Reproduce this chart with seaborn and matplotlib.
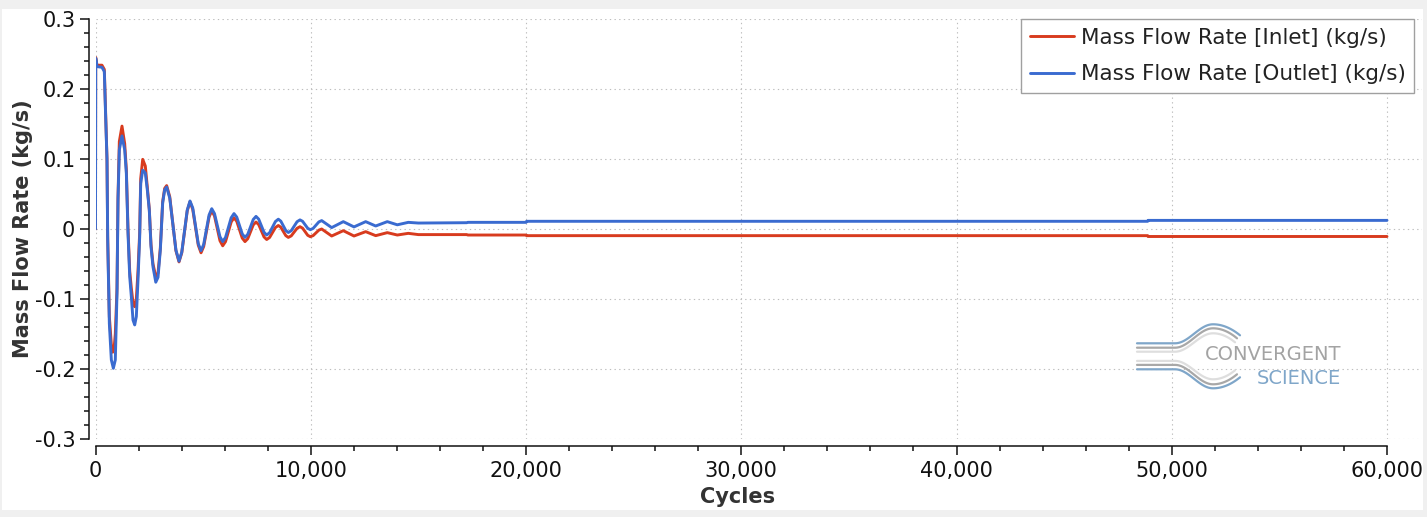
import numpy as np
import matplotlib
matplotlib.use("Agg")
import matplotlib.pyplot as plt
import seaborn as sns
from matplotlib.lines import Line2D
from matplotlib.patches import Rectangle
from matplotlib.ticker import FuncFormatter

# Mass flow rate vs cycles
inlet_label = "Mass Flow Rate [Inlet] (kg/s)"
outlet_label = "Mass Flow Rate [Outlet] (kg/s)"

outlet_cycles = [0, 10, 70, 300, 410, 457, 534, 566, 643, 736,
                 829, 920, 999, 1045, 1107, 1231, 1356, 1433, 1510, 1589,
                 1666, 1742, 1821, 1897, 1974, 2053, 2100, 2193, 2314, 2407,
                 2500, 2578, 2671, 2800, 2904, 3012, 3120, 3213, 3306,
                 3450, 3736, 3880, 4008, 4262, 4390, 4518, 4774, 4902,
                 5026, 5276, 5400, 5528, 5782, 5910, 6041, 6303, 6434,
                 6562, 6817, 6945, 7073, 7329, 7457, 7581, 7829, 7953,
                 8088, 8359, 8494, 8610, 8842, 8958, 9094, 9364, 9500,
                 9620, 9860, 9980, 10112, 10376, 10508,
                 10972, 11512, 12009, 12552, 13017, 13556, 14021, 14532,
                 15000, 17245, 17300, 20000, 20031, 48882, 48900, 60000]
outlet_flow = [0.000, 0.244, 0.232, 0.231, 0.225, 0.175, 0.099, -0.016, -0.135, -0.187,
               -0.199, -0.187, -0.092, 0.041, 0.113, 0.133, 0.113, 0.080, -0.006, -0.068,
               -0.097, -0.130, -0.137, -0.125, -0.073, -0.011, 0.065, 0.084, 0.080, 0.056,
               0.027, -0.025, -0.054, -0.076, -0.069, -0.030, 0.037, 0.056, 0.060,
               0.044, -0.030, -0.046, -0.033, 0.027, 0.040, 0.030, -0.021, -0.031,
               -0.022, 0.020, 0.029, 0.022, -0.011, -0.018, -0.012, 0.016, 0.022,
               0.017, -0.007, -0.012, -0.0076, 0.0136, 0.018, 0.0141, -0.0047, -0.0086,
               -0.0053, 0.0107, 0.014, 0.0112, -0.0022, -0.005, -0.0024, 0.0104, 0.013,
               0.011, 0.001, -0.001, 0.0009, 0.0101, 0.012,
               0.002, 0.0105, 0.003, 0.0105, 0.0043, 0.0105, 0.006, 0.0095,
               0.0085, 0.009, 0.0095, 0.0095, 0.011, 0.011, 0.0123, 0.0123]

inlet_cycles = [0, 10, 70, 300, 410, 457, 534, 566, 643, 736,
                800, 870, 920, 999, 1045, 1107, 1231, 1356, 1433, 1510,
                1589, 1666, 1742, 1821, 1897, 1974, 2053, 2100, 2193, 2314,
                2407, 2500, 2578, 2671, 2800, 2904, 3012, 3120, 3213, 3306,
                3450, 3736, 3880, 4008, 4262, 4390, 4518, 4774, 4902,
                5026, 5276, 5400, 5528, 5782, 5910, 6041, 6303, 6434,
                6562, 6817, 6945, 7073, 7329, 7457, 7581, 7829, 7953,
                8088, 8359, 8494, 8610, 8842, 8958, 9094, 9364, 9500,
                9620, 9860, 9980, 10112, 10376, 10508,
                10972, 11512, 12009, 12552, 13017, 13556, 14021, 14532,
                15000, 17245, 17300, 20000, 20031, 48882, 48900, 60000]
inlet_flow = [0.000, 0.245, 0.234, 0.234, 0.228, 0.180, 0.100, -0.010, -0.125, -0.165,
              -0.176, -0.168, -0.150, -0.085, 0.045, 0.125, 0.147, 0.122, 0.085, 0.000,
              -0.060, -0.085, -0.105, -0.111, -0.100, -0.060, -0.005, 0.072, 0.0995, 0.090,
              0.060, 0.028, -0.022, -0.050, -0.068, -0.063, -0.027, 0.039, 0.058, 0.062,
              0.046, -0.031, -0.047, -0.034, 0.026, 0.039, 0.028, -0.023, -0.034,
              -0.025, 0.017, 0.026, 0.0187, -0.0167, -0.024, -0.018, 0.010, 0.016,
              0.011, -0.013, -0.018, -0.0139, 0.0059, 0.010, 0.0063, -0.0113, -0.015,
              -0.0121, 0.0021, 0.005, 0.0025, -0.0095, -0.012, -0.0098, 0.001, 0.0033,
              0.0012, -0.009, -0.011, -0.0094, -0.0016, 0.000,
              -0.010, -0.0024, -0.010, -0.0038, -0.0095, -0.0052, -0.0086, -0.0062,
              -0.008, -0.008, -0.0086, -0.0086, -0.0095, -0.0095, -0.0107, -0.0107]

x_major = list(range(0, 60001, 10000))
x_minor = list(range(0, 60001, 2000))
y_major = [-0.3, -0.2, -0.1, 0.0, 0.1, 0.2, 0.3]
y_minor = [round(-0.3 + 0.02 * i, 2) for i in range(31)]

red = "#d83b1e"
blue = "#3a6bd0"

sns.set_style("white")
plt.rcParams["font.family"] = ["DejaVu Sans"]

W, H = 1427, 517
fig = plt.figure(figsize=(W / 100, H / 100), dpi=100, facecolor="#f0f0f0")
fig.patches.append(Rectangle((2 / W, 7 / H), 1420.7 / W, 501 / H, transform=fig.transFigure,
                             facecolor="white", edgecolor="none", zorder=-10))

# axes runs past 60,000 so the horizontal grid reaches the right edge
x0, x60, xr = 95.5, 1387, 1422
ax = fig.add_axes([x0 / W, 1 - 439 / H, (xr - x0) / W, 420 / H])
ax.set_facecolor("none")

sns.lineplot(x=inlet_cycles, y=inlet_flow, estimator=None, sort=False, ax=ax,
             color=red, lw=2.1, label=inlet_label)
sns.lineplot(x=outlet_cycles, y=outlet_flow, estimator=None, sort=False, ax=ax,
             color=blue, lw=2.1, label=outlet_label)

ax.set_xlim(0, 60000 * (xr - x0) / (x60 - x0))
ax.set_ylim(-0.3, 0.3)

for s in ["top", "right"]:
    ax.spines[s].set_visible(False)
ax.spines["left"].set_position(("outward", 5))
ax.spines["bottom"].set_position(("outward", 5))
ax.spines["bottom"].set_bounds(0, 60000)
for s in ["left", "bottom"]:
    ax.spines[s].set_color("#111111")
    ax.spines[s].set_linewidth(1.1)

ax.set_xticks(x_major)
ax.set_xticks(x_minor, minor=True)
ax.set_yticks(y_major)
ax.set_yticks(y_minor, minor=True)
ax.xaxis.set_major_formatter(FuncFormatter(lambda v, p: f"{int(round(v)):,}"))
ax.yaxis.set_major_formatter(FuncFormatter(lambda v, p: "0" if abs(v) < 1e-9 else f"{v:.1f}"))

ax.tick_params(which="both", bottom=True, left=True, top=False, right=False, direction="out",
               color="#111111", width=1.1)
ax.tick_params(which="major", length=6.5, labelsize=15, labelcolor="#111111")
ax.tick_params(which="minor", length=3.6)
ax.tick_params(axis="y", which="major", pad=3)
ax.tick_params(axis="x", which="major", pad=4)

ax.grid(True, which="major", color="#bdbdbd", lw=0.8, ls=(0, (1.2, 3)))
ax.grid(False, which="minor")
ax.set_axisbelow(True)

ax.set_xlabel("Cycles", fontsize=15, fontweight="bold", color="#333333")
ax.set_ylabel("Mass Flow Rate (kg/s)", fontsize=15, fontweight="bold", color="#333333")
ax.xaxis.set_label_coords((737.5 - x0) / (xr - x0), (439 - 487) / 420)
ax.yaxis.set_label_coords((33 - x0) / (xr - x0), 0.5)

leg = ax.legend(loc="upper right", bbox_to_anchor=(1414 / W, 1 - 19 / H),
                bbox_transform=fig.transFigure, borderaxespad=0, fontsize=15.5,
                frameon=True, fancybox=False, framealpha=1, edgecolor="#a0a0a0",
                handlelength=2.05, handletextpad=0.3, labelspacing=0.77, borderpad=0.4)
leg.get_frame().set_linewidth(1.0)
for t in leg.get_texts():
    t.set_color("#222222")


# Convergent Science logo (decoration)
def px(x, y):
    return x / W, 1 - y / H


def swoosh(y_flat, y_top, x_end, y_end, color):
    xs1 = np.linspace(1137, 1175, 5)
    ys1 = np.full_like(xs1, y_flat)
    xs2 = np.linspace(1175, 1213, 30)
    ys2 = y_flat + (y_top - y_flat) * (1 - np.cos(np.pi * (xs2 - 1175) / 38)) / 2
    xs3 = np.linspace(1213, x_end, 30)
    ys3 = y_top + (y_end - y_top) * ((xs3 - 1213) / (x_end - 1213)) ** 2
    xs = np.concatenate([xs1, xs2, xs3])
    ys = np.concatenate([ys1, ys2, ys3])
    fx, fy = px(xs, ys)
    fig.add_artist(Line2D(fx, fy, transform=fig.transFigure, color=color, lw=1.6, zorder=5))


cy = 356.3
for off_flat, off_top, xe, off_end, col in [(13, 32, 1240, 21, "#7fa6c9"),
                                            (8.6, 28, 1237, 18, "#a8a8a8"),
                                            (4.6, 23, 1235, 14, "#dedede")]:
    swoosh(cy - off_flat, cy - off_top, xe, cy - off_end, col)
    swoosh(cy + off_flat, cy + off_top, xe, cy + off_end, col)

fig.text(*px(1341, 355), "CONVERGENT", fontsize=14, color="#a3a3a3", ha="right", va="center")
fig.text(*px(1341, 378), "SCIENCE", fontsize=14, color="#7fa6c9", ha="right", va="center")

fig.savefig("out.png", dpi=100, facecolor=fig.get_facecolor())
